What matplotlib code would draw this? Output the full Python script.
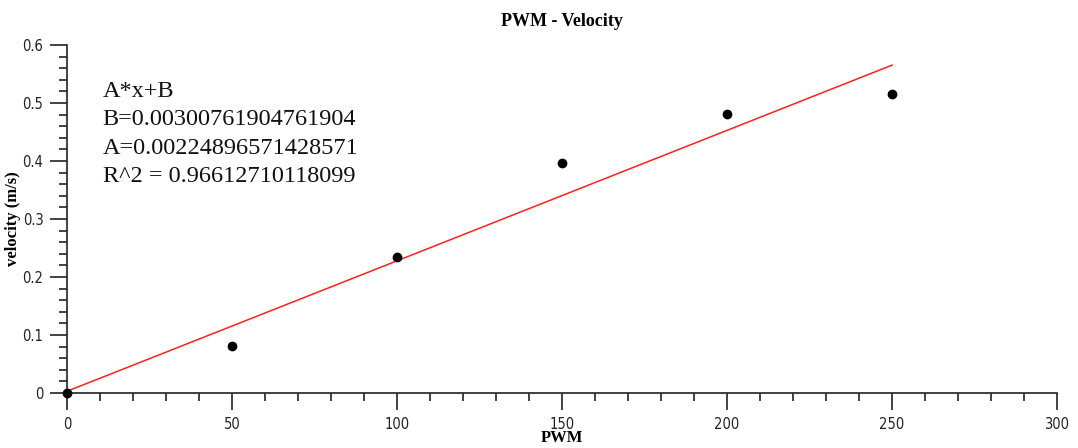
import matplotlib
matplotlib.use("Agg")
import matplotlib.pyplot as plt
import numpy as np
from matplotlib.ticker import MultipleLocator, FuncFormatter

# measured points
pwm = [0, 50, 100, 150, 200, 250]
velocity = [0.0, 0.081, 0.234, 0.397, 0.481, 0.516]

# fit coefficients shown in the chart
A = 0.0022489657142857
B = 0.0030076190476190

fit_lines = ["A*x+B",
             "B=0.00300761904761904",
             "A=0.00224896571428571",
             "R^2 = 0.96612710118099"]

fig = plt.figure(figsize=(10.78, 4.48), dpi=100)
ax = fig.add_axes([0.0622, 0.1228, 0.9183, 0.7768])

xfit = np.array([0, 250])
ax.plot(xfit, A * xfit + B, color="#ff2020", lw=1.1, zorder=2)
ax.plot(pwm, velocity, "o", color="black", ms=6, zorder=3, clip_on=False)

ax.set_xlim(0, 300)
ax.set_ylim(0, 0.6)
ax.xaxis.set_major_locator(MultipleLocator(50))
ax.xaxis.set_minor_locator(MultipleLocator(10))
ax.yaxis.set_major_locator(MultipleLocator(0.1))
ax.yaxis.set_minor_locator(MultipleLocator(0.02))
ax.yaxis.set_major_formatter(FuncFormatter(lambda v, p: "0" if abs(v) < 1e-9 else "%g" % round(v, 1)))

for s in ["top", "right"]:
    ax.spines[s].set_visible(False)
for s in ["left", "bottom"]:
    ax.spines[s].set_color("#222222")
    ax.spines[s].set_linewidth(1.2)

ax.tick_params(which="major", direction="out", length=12, width=1.2, color="#222222",
               labelsize=10.5, pad=5)
ax.tick_params(which="minor", direction="out", length=6, width=1.2, color="#222222")
for lab in ax.get_xticklabels() + ax.get_yticklabels():
    lab.set_family("DejaVu Sans")
    lab.set_color("#222222")
    lab.set_fontstretch("condensed")

ax.set_title("PWM - Velocity", family="Liberation Serif", fontweight="bold",
             fontsize=13, pad=14)
ax.set_xlabel("PWM", family="Liberation Serif", fontweight="bold", fontsize=12)
ax.xaxis.set_label_coords(0.5, -0.106)
ax.set_ylabel("velocity (m/s)", family="Liberation Serif", fontweight="bold",
              fontsize=12)
ax.yaxis.set_label_coords(-0.047, 0.5)

for i, line in enumerate(fit_lines):
    ax.text(0.036, 0.8506 - i * 0.0819, line, transform=ax.transAxes,
            family="Liberation Serif", fontsize=17.5, va="baseline", ha="left",
            color="#111111")

fig.savefig("out.png", dpi=100)
